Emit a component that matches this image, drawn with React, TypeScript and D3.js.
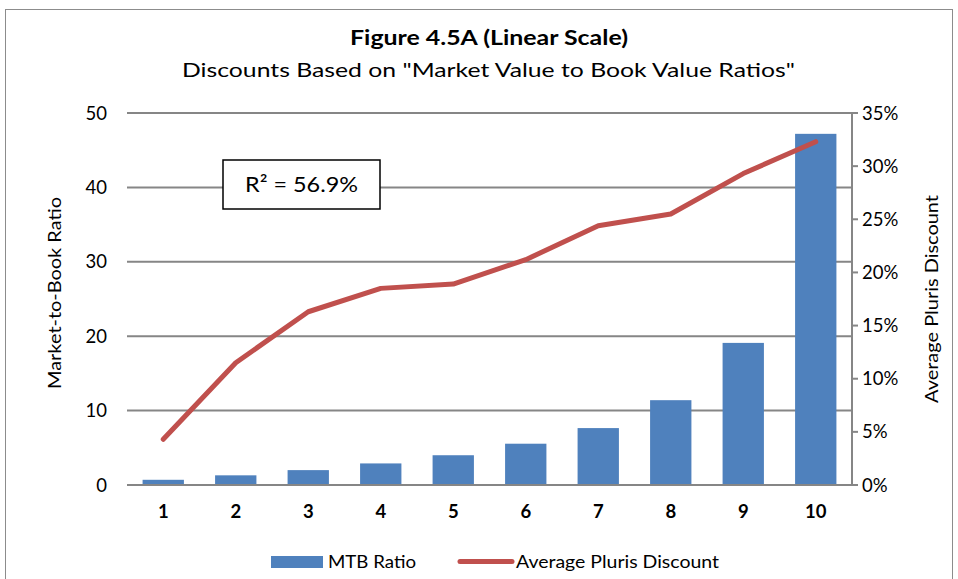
import React from "react";
import * as d3 from "d3";

const categories = ["1", "2", "3", "4", "5", "6", "7", "8", "9", "10"];
const mtbRatio = [0.7, 1.3, 2.0, 2.9, 4.0, 5.55, 7.65, 11.4, 19.1, 47.2];
const avgDiscount = [0.043, 0.115, 0.163, 0.185, 0.189, 0.212, 0.244, 0.255, 0.293, 0.323];
const leftTicks = [0, 10, 20, 30, 40, 50];
const rightTicks = [0, 0.05, 0.1, 0.15, 0.2, 0.25, 0.3, 0.35];

const W = 958;
const H = 579;
const FONT = "Lato, 'Open Sans', sans-serif";

export default function App() {
  const left = 127;
  const right = 852;
  const top = 113;
  const bottom = 485;

  const x = d3.scaleBand<string>().domain(categories).range([left, right]).paddingInner(0.43).paddingOuter(0.215);
  const yL = d3.scaleLinear().domain([0, 50]).range([bottom, top]);
  const yR = d3.scaleLinear().domain([0, 0.35]).range([bottom, top]);
  const cx = (c: string) => (x(c) as number) + x.bandwidth() / 2;

  const line = d3
    .line<number>()
    .x((_, i) => cx(categories[i]))
    .y((d) => yR(d));

  return (
    <svg width={W} height={H} style={{ position: "absolute", left: 0, top: 0 }} fontFamily={FONT}>
      <rect x={0} y={0} width={W} height={H} fill="#fff" />
      <rect x={5.5} y={9.5} width={947} height={600} fill="#fff" stroke="#8c8c8c" strokeWidth={1} />
      <text x={489} y={45} textAnchor="middle" fontSize={20} fontWeight="bold" fill="#000" textLength={278} lengthAdjust="spacingAndGlyphs">
        Figure 4.5A (Linear Scale)
      </text>
      <text x={488.5} y={77} textAnchor="middle" fontSize={20} fill="#000" textLength={613} lengthAdjust="spacingAndGlyphs">
        Discounts Based on "Market Value to Book Value Ratios"
      </text>

      {leftTicks.map((t) => (
        <g key={"l" + t}>
          {t > 0 && <line x1={left} x2={right} y1={yL(t)} y2={yL(t)} stroke="#868686" strokeWidth={2} />}
          <text x={107} y={yL(t) + 6.5} textAnchor="end" fontSize={18.5} fill="#000">
            {t}
          </text>
        </g>
      ))}

      {rightTicks.map((t) => (
        <g key={"r" + t}>
          <line x1={right} x2={right + 6} y1={yR(t)} y2={yR(t)} stroke="#868686" strokeWidth={2} />
          <text x={862} y={yR(t) + 6.5} textAnchor="start" fontSize={18.5} fill="#000">
            {d3.format(".0%")(t)}
          </text>
        </g>
      ))}
      <line x1={right} x2={right} y1={top} y2={bottom} stroke="#868686" strokeWidth={2} />

      {mtbRatio.map((v, i) => (
        <rect
          key={"b" + i}
          x={x(categories[i])}
          y={yL(v)}
          width={x.bandwidth()}
          height={bottom - yL(v)}
          fill="#4F81BD"
        />
      ))}

      <line x1={left} x2={right} y1={bottom} y2={bottom} stroke="#868686" strokeWidth={2} />

      {categories.map((c) => (
        <text key={"x" + c} x={cx(c)} y={518} textAnchor="middle" fontSize={18.5} fontWeight="bold" fill="#000">
          {c}
        </text>
      ))}

      <path d={line(avgDiscount) || ""} fill="none" stroke="#C0504D" strokeWidth={5} strokeLinecap="round" strokeLinejoin="round" />

      <rect x={223} y={160} width={157} height={49} fill="#fff" stroke="#000" strokeWidth={1.5} />
      <text x={301.5} y={192} textAnchor="middle" fontSize={22} fill="#000" textLength={113} lengthAdjust="spacingAndGlyphs">
        R² = 56.9%
      </text>

      <text transform="translate(61,293) rotate(-90)" textAnchor="middle" fontSize={18} fill="#000" textLength={192} lengthAdjust="spacingAndGlyphs">
        Market-to-Book Ratio
      </text>
      <text transform="translate(938,299) rotate(-90)" textAnchor="middle" fontSize={18} fill="#000" textLength={208} lengthAdjust="spacingAndGlyphs">
        Average Pluris Discount
      </text>

      <rect x={271} y={556} width={52} height={12} fill="#4F81BD" />
      <text x={328} y={568} fontSize={18} fill="#000" textLength={88} lengthAdjust="spacingAndGlyphs">
        MTB Ratio
      </text>
      <line x1={460} x2={512} y1={561.5} y2={561.5} stroke="#C0504D" strokeWidth={5} strokeLinecap="round" />
      <text x={516} y={568} fontSize={18} fill="#000" textLength={203} lengthAdjust="spacingAndGlyphs">
        Average Pluris Discount
      </text>
    </svg>
  );
}
